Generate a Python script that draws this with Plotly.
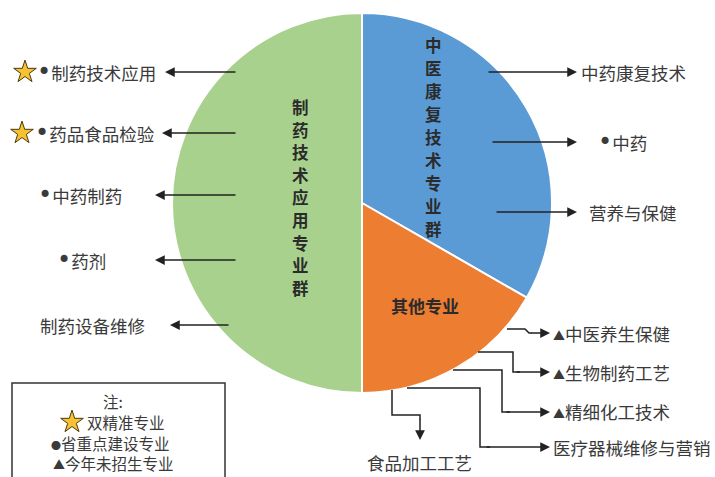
import plotly.graph_objects as go

# ---- data ----
groups = ["中医康复技术专业群", "其他专业", "制药技术应用专业群"]
shares = [33.3, 16.7, 50.0]
colors = ["#5B9BD5", "#ED7D31", "#A9D18E"]

left_items = ["制药技术应用", "药品食品检验", "中药制药", "药剂", "制药设备维修"]
left_marks = [["star", "dot"], ["star", "dot"], ["dot"], ["dot"], []]
right_items = ["中药康复技术", "中药", "营养与保健"]
right_marks = [[], ["dot"], []]
other_items = ["中医养生保健", "生物制药工艺", "精细化工技术", "医疗器械维修与营销", "食品加工工艺"]
other_marks = [["tri"], ["tri"], ["tri"], [], []]
note_title = "注:"
note_items = ["双精准专业", "省重点建设专业", "今年未招生专业"]
note_marks = ["star", "dot", "tri"]

W, H = 715, 477
FONT = "Noto Sans CJK SC"
TXT = "#3a3a3a"
LINE = "#222222"
FS = 17.5

DOT = "<span style='font-family:DejaVu Sans;font-size:24px'>•</span>"
DOT_SMALL = "<span style='font-family:DejaVu Sans;font-size:17px'>●</span>"
TRI = "<span style='font-size:12px'>▲</span>"

def prefix(marks, dot=DOT):
    s = ""
    for m in marks:
        if m == "dot":
            s += dot
        elif m == "tri":
            s += TRI
    return s

fig = go.Figure()

# pie: center (362,203), r=190 in pixels
cx, cy, r = 362, 203, 190
fig.add_trace(go.Pie(
    labels=groups, values=shares, sort=False, direction="clockwise", rotation=0,
    marker=dict(colors=colors, line=dict(color="white", width=2)),
    textinfo="none", hoverinfo="label", showlegend=False,
    domain=dict(x=[(cx - r) / W, (cx + r) / W], y=[1 - (cy + r) / H, 1 - (cy - r) / H]),
))

annotations = []
shapes = []

def text(x, y, t, anchor="left", size=FS, bold=False, color=TXT):
    annotations.append(dict(
        x=x, y=y, xref="x", yref="y", text=("<b>%s</b>" % t) if bold else t,
        showarrow=False, xanchor=anchor, yanchor="middle", borderpad=0,
        font=dict(family=FONT, size=size, color=color)))

def arrow(x0, y0, x1, y1):
    annotations.append(dict(
        x=x1, y=y1, ax=x0, ay=y0, xref="x", yref="y", axref="x", ayref="y",
        text="", showarrow=True, arrowhead=2, arrowsize=1.3, arrowwidth=1.5,
        arrowcolor=LINE))

def polyline(pts):
    d = "M %s %s " % pts[0] + " ".join("L %s %s" % p for p in pts[1:])
    shapes.append(dict(type="path", path=d, xref="x", yref="y",
                       line=dict(color=LINE, width=1.5)))

def vertical(x, y_first, step, label):
    for k, ch in enumerate(label):
        text(x, y_first + k * step, ch, anchor="center", size=16.5, bold=True, color="#2b2b2b")

# slice labels (vertical text)
vertical(300, 107, 22.6, groups[2])
vertical(433, 45, 23.0, groups[0])
text(425, 305, groups[1], anchor="center", size=17, bold=True, color="#2b2b2b")

# left side
left_y = [72, 133, 195, 260, 325]
left_right = [157, 156, 123, 107, 146]
left_arrow = [(237, 165), (237, 162), (237, 155), (237, 155), (230, 170)]
star_pts_x, star_pts_y = [], []
star_x = [25, 22]
for i, name in enumerate(left_items):
    text(left_right[i], left_y[i], prefix(left_marks[i]) + name, anchor="right")
    arrow(left_arrow[i][0], left_y[i], left_arrow[i][1], left_y[i])
    if "star" in left_marks[i]:
        star_pts_x.append(star_x[i])
        star_pts_y.append(left_y[i])

# right side
right_y = [72, 142, 212]
right_left = [580, 597, 588]
right_tail = [487, 491, 495]
for i, name in enumerate(right_items):
    text(right_left[i], right_y[i], prefix(right_marks[i]) + name, anchor="left")
    arrow(right_tail[i], right_y[i], 577, right_y[i])

# other majors (bottom right)
polyline([(507, 329), (525, 329), (529, 333), (532, 333)])
arrow(530, 333, 550, 333)
text(552, 333, prefix(other_marks[0]) + other_items[0])

polyline([(478, 352), (513, 352), (513, 372), (520, 372)])
arrow(515, 372, 550, 372)
text(552, 372, prefix(other_marks[1]) + other_items[1])

polyline([(453, 370), (502, 370), (502, 412), (510, 412)])
arrow(505, 412, 550, 412)
text(552, 411, prefix(other_marks[2]) + other_items[2])

polyline([(407, 388), (480, 388), (480, 447), (490, 447)])
arrow(485, 447, 550, 447)
text(552, 447, prefix(other_marks[3]) + other_items[3])

polyline([(392, 390), (392, 415), (420, 415), (420, 420)])
arrow(420, 418, 420, 440)
text(419, 462, other_items[4], anchor="center")

# note box
shapes.append(dict(type="rect", x0=12, y0=383, x1=225, y1=485, xref="x", yref="y",
                   line=dict(color="#333333", width=1.5)))
NS = 15.5
text(113, 401, note_title, anchor="center", size=NS)
note_y = [422, 443, 463]
note_x = [86, 50, 52]
for i, name in enumerate(note_items):
    m = note_marks[i]
    if m == "star":
        star_pts_x.append(72)
        star_pts_y.append(note_y[i])
        text(note_x[i], note_y[i], name, size=NS)
    else:
        text(note_x[i], note_y[i], prefix([m], dot="<span style='font-size:10px'>●</span>") + name, size=NS)

fig.add_trace(go.Scatter(
    x=star_pts_x, y=star_pts_y, mode="markers", showlegend=False, hoverinfo="skip",
    marker=dict(symbol="star", size=17, color="#F7C232", line=dict(color="#4a3a10", width=1)),
))

fig.update_layout(
    width=W, height=H, margin=dict(l=0, r=0, t=0, b=0),
    paper_bgcolor="white", plot_bgcolor="rgba(0,0,0,0)",
    xaxis=dict(range=[0, W], visible=False, fixedrange=True, domain=[0, 1]),
    yaxis=dict(range=[H, 0], visible=False, fixedrange=True, domain=[0, 1]),
    annotations=annotations, shapes=shapes,
    font=dict(family=FONT, color=TXT),
)

fig.write_html("out.html", config={"displayModeBar": False},
               post_script="document.body.style.margin='0px';document.body.style.overflow='hidden';")
